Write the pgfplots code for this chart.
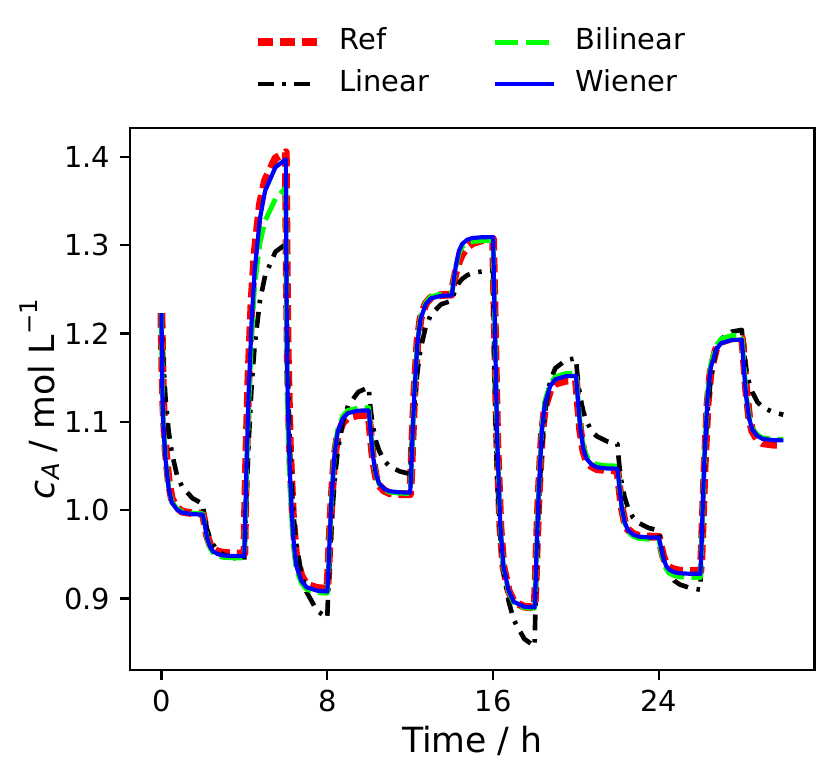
\documentclass[border=0pt]{standalone}
\usepackage{fontspec}
\setmainfont{DejaVu Sans}
\usepackage{pgfplots}
\pgfplotsset{compat=1.18}
\usepackage{pgfplotstable}
\definecolor{limegreen}{RGB}{0,255,0}

\pgfplotstableread{
t v
0 1.223
0.05 1.1549
0.1 1.1140
0.2 1.0686
0.35 1.0323
0.5 1.0130
0.75 1.0028
1 0.9983
1.5 0.9965
2 0.996
2.05 0.9897
2.1 0.9834
2.2 0.9712
2.35 0.9609
2.5 0.9559
2.75 0.9530
3 0.9517
3.5 0.9511
4 0.951
4.05 1.0146
4.1 1.0645
4.2 1.1508
4.35 1.2370
4.5 1.2915
4.75 1.3460
5 1.3732
5.5 1.3982
6 1.405
6.05 1.2568
6.1 1.1679
6.2 1.0691
6.35 0.9900
6.5 0.9480
6.75 0.9258
7 0.9159
7.5 0.9120
8 0.911
8.05 0.9307
8.1 0.9603
8.2 1.0095
8.35 1.0607
8.5 1.0844
8.75 1.0991
9 1.1050
9.5 1.1076
10 1.108
10.05 1.0954
10.1 1.0828
10.2 1.0585
10.35 1.0378
10.5 1.0279
10.75 1.0220
11 1.0193
11.5 1.0182
12 1.018
12.05 1.0406
12.1 1.0745
12.2 1.1310
12.35 1.1898
12.5 1.2169
12.75 1.2338
13 1.2406
13.5 1.2435
14 1.244
14.05 1.2516
14.1 1.2579
14.2 1.2692
14.35 1.2812
14.5 1.2894
14.75 1.2976
15 1.3020
15.5 1.3057
16 1.307
16.05 1.2486
16.1 1.1902
16.2 1.0776
16.35 0.9817
16.5 0.9359
16.75 0.9088
17 0.8963
17.5 0.8908
18 0.890
18.05 0.9157
18.1 0.9543
18.2 1.0185
18.35 1.0853
18.5 1.1162
18.75 1.1354
19 1.1431
19.5 1.1465
20 1.147
20.05 1.1327
20.1 1.1184
20.2 1.0909
20.35 1.0674
20.5 1.0562
20.75 1.0496
21 1.0465
21.5 1.0452
22 1.045
22.05 1.0345
22.1 1.0240
22.2 1.0037
22.35 0.9865
22.5 0.9782
22.75 0.9734
23 0.9711
23.5 0.9701
24 0.970
24.05 0.9645
24.1 0.9591
24.2 0.9485
24.35 0.9396
24.5 0.9353
24.75 0.9328
25 0.9316
25.5 0.9311
26 0.931
26.05 0.9468
26.1 0.9785
26.2 1.0472
26.35 1.1211
26.5 1.1580
26.75 1.1818
27 1.1905
27.5 1.1945
28 1.195
28.05 1.1853
28.1 1.1708
28.2 1.1381
28.35 1.1055
28.5 1.0897
28.75 1.0800
29 1.0758
29.5 1.0742
30 1.074
}\refdata

\pgfplotstableread{
t v
0 1.223
0.05 1.1906
0.1 1.1647
0.2 1.1258
0.35 1.0891
0.5 1.0653
0.75 1.0394
1 1.0264
1.5 1.0135
2 1.007
2.05 0.9975
2.1 0.9900
2.2 0.9786
2.35 0.9679
2.5 0.9610
2.75 0.9534
3 0.9497
3.5 0.9459
4 0.944
4.05 0.9797
4.1 1.0154
4.2 1.0725
4.35 1.1404
4.5 1.1868
4.75 1.2367
5 1.2653
5.5 1.2924
6 1.301
6.05 1.2164
6.1 1.1529
6.2 1.0683
6.35 1.0007
6.5 0.9626
6.75 0.9288
7 0.9076
7.5 0.8865
8 0.878
8.05 0.9093
8.1 0.9354
8.2 0.9824
8.35 1.0320
8.5 1.0659
8.75 1.0999
9 1.1181
9.5 1.1338
10 1.139
10.05 1.1243
10.1 1.1125
10.2 1.0949
10.35 1.0782
10.5 1.0675
10.75 1.0557
11 1.0498
11.5 1.0439
12 1.041
12.05 1.0645
12.1 1.0841
12.2 1.1194
12.35 1.1566
12.5 1.1821
12.75 1.2076
13 1.2213
13.5 1.2331
14 1.237
14.05 1.2411
14.1 1.2445
14.2 1.2506
14.35 1.2571
14.5 1.2615
14.75 1.2659
15 1.2683
15.5 1.2703
16 1.271
16.05 1.1860
16.1 1.1222
16.2 1.0372
16.35 0.9692
16.5 0.9310
16.75 0.8970
17 0.8757
17.5 0.8545
18 0.846
18.05 0.8949
18.1 0.9373
18.2 1.0057
18.35 1.0709
18.5 1.1101
18.75 1.1459
19 1.1606
19.5 1.1697
20 1.172
20.05 1.1574
20.1 1.1458
20.2 1.1283
20.35 1.1119
20.5 1.1012
20.75 1.0895
21 1.0837
21.5 1.0779
22 1.075
22.05 1.0603
22.1 1.0485
22.2 1.0309
22.35 1.0142
22.5 1.0035
22.75 0.9917
23 0.9858
23.5 0.9799
24 0.977
24.05 0.9669
24.1 0.9589
24.2 0.9468
24.35 0.9355
24.5 0.9281
24.75 0.9200
25 0.9160
25.5 0.9120
26 0.910
26.05 0.9541
26.1 0.9923
26.2 1.0541
26.35 1.1129
26.5 1.1481
26.75 1.1805
27 1.1937
27.5 1.2019
28 1.204
28.05 1.1896
28.1 1.1781
28.2 1.1608
28.35 1.1445
28.5 1.1339
28.75 1.1224
29 1.1166
29.5 1.1109
30 1.108
}\lindata

\pgfplotstableread{
t v
0 1.223
0.05 1.1277
0.1 1.0936
0.2 1.0573
0.35 1.0255
0.5 1.0096
0.75 1.0017
1 0.9983
1.5 0.9965
2 0.996
2.05 0.9890
2.1 0.9820
2.2 0.9685
2.35 0.9570
2.5 0.9515
2.75 0.9482
3 0.9467
3.5 0.9461
4 0.946
4.05 0.9963
4.1 1.0382
4.2 1.1136
4.35 1.1974
4.5 1.2561
4.75 1.3022
5 1.3273
5.5 1.3524
6 1.365
6.05 1.1722
6.1 1.1034
6.2 1.0299
6.35 0.9657
6.5 0.9335
6.75 0.9175
7 0.9106
7.5 0.9069
8 0.906
8.05 0.9270
8.1 0.9585
8.2 1.0110
8.35 1.0656
8.5 1.0908
8.75 1.1066
9 1.1129
9.5 1.1156
10 1.116
10.05 1.1024
10.1 1.0888
10.2 1.0626
10.35 1.0403
10.5 1.0297
10.75 1.0234
11 1.0205
11.5 1.0192
12 1.019
12.05 1.0416
12.1 1.0755
12.2 1.1320
12.35 1.1908
12.5 1.2179
12.75 1.2348
13 1.2416
13.5 1.2445
14 1.245
14.05 1.2510
14.1 1.2600
14.2 1.2750
14.35 1.2906
14.5 1.2978
14.75 1.3023
15 1.3041
15.5 1.3049
16 1.305
16.05 1.2468
16.1 1.1885
16.2 1.0762
16.35 0.9805
16.5 0.9348
16.75 0.9077
17 0.8952
17.5 0.8898
18 0.889
18.05 0.9156
18.1 0.9555
18.2 1.0220
18.35 1.0912
18.5 1.1231
18.75 1.1430
19 1.1510
19.5 1.1545
20 1.155
20.05 1.1403
20.1 1.1256
20.2 1.0972
20.35 1.0731
20.5 1.0615
20.75 1.0547
21 1.0516
21.5 1.0502
22 1.050
22.05 1.0384
22.1 1.0268
22.2 1.0043
22.35 0.9853
22.5 0.9761
22.75 0.9707
23 0.9682
23.5 0.9672
24 0.967
24.05 0.9610
24.1 0.9550
24.2 0.9433
24.35 0.9335
24.5 0.9287
24.75 0.9259
25 0.9246
25.5 0.9241
26 0.924
26.05 0.9514
26.1 0.9925
26.2 1.0610
26.35 1.1322
26.5 1.1651
26.75 1.1857
27 1.1939
27.5 1.1975
28 1.198
28.05 1.1815
28.1 1.1650
28.2 1.1331
28.35 1.1060
28.5 1.0930
28.75 1.0853
29 1.0818
29.5 1.0802
30 1.080
}\bildata

\pgfplotstableread{
t v
0 1.223
0.05 1.1272
0.1 1.0930
0.2 1.0566
0.35 1.0246
0.5 1.0087
0.75 1.0007
1 0.9973
1.5 0.9955
2 0.995
2.05 0.9884
2.1 0.9818
2.2 0.9691
2.35 0.9583
2.5 0.9532
2.75 0.9501
3 0.9487
3.5 0.9481
4 0.948
4.05 1.0019
4.1 1.0468
4.2 1.1276
4.35 1.2129
4.5 1.2713
4.75 1.3297
5 1.3611
5.5 1.3880
6 1.397
6.05 1.1916
6.1 1.1183
6.2 1.0400
6.35 0.9716
6.5 0.9373
6.75 0.9202
7 0.9129
7.5 0.9090
8 0.908
8.05 0.9285
8.1 0.9593
8.2 1.0105
8.35 1.0638
8.5 1.0884
8.75 1.1038
9 1.1099
9.5 1.1126
10 1.113
10.05 1.1000
10.1 1.0870
10.2 1.0618
10.35 1.0405
10.5 1.0302
10.75 1.0242
11 1.0214
11.5 1.0202
12 1.020
12.05 1.0423
12.1 1.0758
12.2 1.1315
12.35 1.1895
12.5 1.2162
12.75 1.2330
13 1.2397
13.5 1.2426
14 1.243
14.05 1.2496
14.1 1.2595
14.2 1.2760
14.35 1.2932
14.5 1.3011
14.75 1.3060
15 1.3080
15.5 1.3089
16 1.309
16.05 1.2503
16.1 1.1917
16.2 1.0785
16.35 0.9822
16.5 0.9361
16.75 0.9089
17 0.8963
17.5 0.8908
18 0.890
18.05 0.9162
18.1 0.9555
18.2 1.0210
18.35 1.0891
18.5 1.1206
18.75 1.1402
19 1.1481
19.5 1.1515
20 1.152
20.05 1.1373
20.1 1.1226
20.2 1.0942
20.35 1.0701
20.5 1.0585
20.75 1.0517
21 1.0486
21.5 1.0472
22 1.047
22.05 1.0361
22.1 1.0252
22.2 1.0041
22.35 0.9862
22.5 0.9776
22.75 0.9725
23 0.9702
23.5 0.9692
24 0.969
24.05 0.9633
24.1 0.9575
24.2 0.9464
24.35 0.9370
24.5 0.9325
24.75 0.9298
25 0.9286
25.5 0.9281
26 0.928
26.05 0.9545
26.1 0.9943
26.2 1.0605
26.35 1.1294
26.5 1.1612
26.75 1.1811
27 1.1890
27.5 1.1925
28 1.193
28.05 1.1770
28.1 1.1611
28.2 1.1303
28.35 1.1041
28.5 1.0915
28.75 1.0841
29 1.0807
29.5 1.0792
30 1.079
}\wiendata

\begin{document}
\begin{tikzpicture}
\useasboundingbox (-45.1pt,-37pt) rectangle (242.8pt,231.8pt);
\begin{axis}[
  at={(0,0)}, anchor=south west,
  scale only axis, width=236.7pt, height=187.5pt,
  xmin=-1.5, xmax=31.5, ymin=0.8193, ymax=1.4324,
  xtick={0,8,16,24}, ytick={0.9,1.0,1.1,1.2,1.3,1.4},
  yticklabel style={/pgf/number format/.cd, fixed, fixed zerofill, precision=1},
  /pgf/number format/assume math mode=true,
  xtick pos=bottom, ytick pos=left,
  tick align=outside, major tick length=3.5pt,
  every tick/.style={black, line width=0.8pt},
  axis line style={line width=0.8pt},
  tick label style={font=\fontsize{10}{12}\selectfont},
  xlabel={Time / h},
  ylabel={\textit{c}\raisebox{-0.3ex}{\fontsize{8.4}{10}\selectfont\textit{A}} / mol L\raisebox{0.85ex}{\fontsize{8.4}{10}\selectfont −1}},
  label style={font=\fontsize{12}{14.4}\selectfont},
  xlabel style={at={(axis description cs:0.5,-0.131)}, anchor=center},
  ylabel style={at={(axis description cs:-0.132,0.5)}, anchor=center},
  legend columns=2, transpose legend,
  legend cell align=left,
  legend image code/.code={\draw[#1] (0pt,0pt) -- (20.4pt,0pt);},
  legend style={at={(axis description cs:0.5,1.12)}, anchor=center,
    draw=none, fill=none, font=\fontsize{10}{12}\selectfont,
    /tikz/every even column/.append style={column sep=20pt},
    /tikz/every odd column/.append style={column sep=4.5pt},
    row sep=0.5pt,
    nodes={inner sep=2pt, text height=7.5pt, text depth=2.5pt}},
]
\addplot[red, line width=2.7pt, line join=round, dash pattern=on 5.2pt off 2.4pt] table[x=t,y=v] {\refdata};
\addlegendentry{Ref}
\addplot[black, line width=1.6pt, line join=round, dash pattern=on 5.5pt off 3pt on 1.2pt off 3pt] table[x=t,y=v] {\lindata};
\addlegendentry{Linear}
\addplot[limegreen, line width=1.7pt, line join=round, dash pattern=on 8pt off 2.5pt] table[x=t,y=v] {\bildata};
\addlegendentry{Bilinear}
\addplot[blue, line width=1.45pt, line join=round] table[x=t,y=v] {\wiendata};
\addlegendentry{Wiener}
\end{axis}
\end{tikzpicture}
\end{document}
